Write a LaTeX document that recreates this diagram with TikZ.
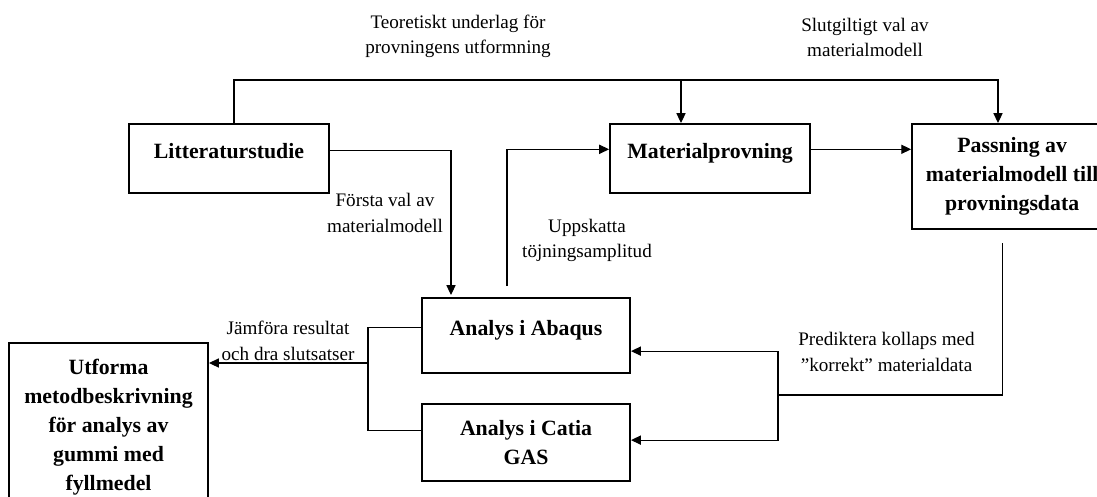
\documentclass[tikz,border=0pt]{standalone}
\usepackage{fontspec}
\setmainfont{Liberation Serif}
\usetikzlibrary{positioning,arrows.meta}

\begin{document}
\begin{tikzpicture}[
  x=0.025cm, y=-0.025cm,
  box/.style={rectangle, draw, line width=1.4pt,
    minimum width=5cm, minimum height=1.725cm,
    align=center, inner sep=0pt,
    font=\fontsize{15.5}{20.6}\selectfont\bfseries},
  oneline/.style={text height=0.37cm, text depth=0.37cm},
  note/.style={align=center, inner sep=0pt,
    font=\fontsize{13.6}{18.1}\selectfont},
  conn/.style={line width=0.75pt},
  arr/.style={-{Triangle[length=7pt, width=6.5pt]}, line width=0.75pt}
]
\useasboundingbox (0,0) rectangle (1097,496);
\node[box, oneline] (lit) at (229,158.5) {Litteraturstudie};
\node[box, oneline, right=6.975cm of lit] (mat) {Materialprovning};
\node[box, minimum height=2.625cm, right=2.5cm of mat.north east,
  anchor=north west] (pass) {Passning av\\materialmodell till\\provningsdata};
\node[box, oneline, minimum width=5.2cm, minimum height=1.875cm]
  (abq) at (526,335.5) {Analys i Abaqus};
\node[box, minimum width=5.2cm, minimum height=1.925cm,
  below=0.725cm of abq] (cat) {Analys i Catia\\GAS};
\node[box, minimum width=4.975cm, minimum height=4.2cm] (utf) at (108.5,427)
  {Utforma\\metodbeskrivning\\för analys av\\gummi med\\fyllmedel};
\node[note] (teo)  at (458,36.5) {Teoretiskt underlag för\\provningens utformning};
\node[note] (slut) at (865,37.5) {Slutgiltigt val av\\materialmodell};
\node[note] (forsta) at (385,213) {Första val av\\materialmodell};
\node[note] (upp)  at (587,240.5) {Uppskatta\\töjningsamplitud};
\node[note] (jmf)  at (288,341) {Jämföra resultat\\och dra slutsatser};
\node[note] (pred) at (886.5,352) {Prediktera kollaps med\\”korrekt” materialdata};
\coordinate (ttop) at (998,80);
\coordinate (tmat) at (681,80);
\coordinate (pk) at (778,395);
\coordinate (jf) at (368,363);
\draw[arr] ([xshift=0.125cm]lit.north) |- (ttop) -- (ttop |- pass.north);
\draw[arr] (tmat) -- (tmat |- mat.north);
\draw[arr] ([yshift=0.21cm]lit.east) -| ([xshift=0.75cm,yshift=0.05cm]abq.north west);
\draw[arr] ([xshift=2.15cm,yshift=0.275cm]abq.north west) |- ([yshift=0.23cm]mat.west);
\draw[arr] ([yshift=0.23cm]mat.east) -- ([yshift=0.23cm]mat.east -| pass.west);
\draw[conn] ([xshift=-0.25cm,yshift=-0.325cm]pass.south) |- (pk);
\draw[arr] (pk) |- ([yshift=-0.39cm]abq.east);
\draw[arr] (pk) |- ([yshift=0.06cm]cat.east);
\draw[conn] ([yshift=0.21cm]abq.west) -| (jf);
\draw[conn] ([yshift=0.29cm]cat.west) -| (jf);
\draw[arr] (jf) -- (jf -| utf.east);
\end{tikzpicture}
\end{document}
